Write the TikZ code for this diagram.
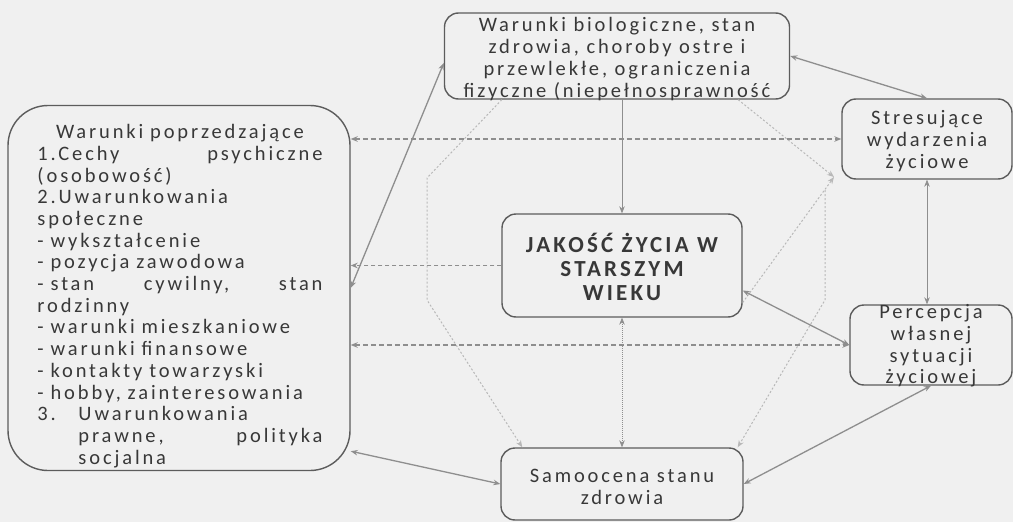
\documentclass[tikz,border=0pt]{standalone}
\usepackage{fontspec}
\setmainfont{Carlito}[LetterSpace=14]
\usetikzlibrary{positioning,arrows.meta}
\definecolor{paper}{HTML}{F0F0F0}
\definecolor{frame}{HTML}{5C5C5C}
\definecolor{ink}{HTML}{383838}
\definecolor{linkgray}{HTML}{8E8E8E}
\definecolor{faintgray}{HTML}{B8B8B8}
\tikzset{
	box/.style={draw=frame,line width=1.4pt,rounded corners=14pt,inner sep=0pt},
	boxtext/.style={text=ink,align=center,inner sep=0pt,font=\fontsize{20.5}{21.7}\selectfont},
	solidlink/.style={draw=linkgray,line width=1.3pt},
	thinlink/.style={draw=linkgray,line width=0.6pt},
	dashlink/.style={draw=linkgray,line width=1.8pt,dash pattern=on 5pt off 3pt},
	dotlink/.style={draw=faintgray,line width=1pt,dash pattern=on 2pt off 2pt},
	>={Stealth[length=7pt,width=5.5pt]}
}

\begin{document}
\begin{tikzpicture}[x=1pt,y=-1pt]
	\fill[paper] (0,0) rectangle (1013,522);
	\useasboundingbox (0,0) rectangle (1013,522);
	\node[box,rounded corners=40pt,minimum width=342pt,minimum height=365pt] (prev) at (179,288) {};
	\node[boxtext,align=left,text width=285pt] (prevtext) at (180,296) {%
		\hfill Warunki poprzedzające\hfill\null\\
		1.Cechy\hfill psychiczne\\
		(osobowość)\\
		2.Uwarunkowania\\
		społeczne\\
		- wykształcenie\\
		- pozycja zawodowa\\
		- stan\hfill cywilny,\hfill stan\\
		rodzinny\\
		- warunki mieszkaniowe\\
		- warunki finansowe\\
		- kontakty towarzyski\\
		- hobby, zainteresowania\\
		\makebox[41pt][l]{3.}Uwarunkowania\\
		\hspace*{41pt}prawne,\hfill polityka\\
		\hspace*{41pt}socjalna};
	\node[box,minimum width=345pt,minimum height=86pt] (bio) at (617,56) {};
	\node[boxtext] (biotext) at ([yshift=-3pt]bio.center) {Warunki biologiczne, stan\\zdrowia, choroby ostre i\\przewlekłe, ograniczenia\\fizyczne (niepełnosprawność};
	\node[box,minimum width=170pt,minimum height=80pt] (stress) at (927,139) {};
	\node[boxtext] (stresstext) at ([yshift=-2pt]stress.center) {Stresujące\\wydarzenia\\życiowe};
	\node[box,minimum width=162pt,minimum height=80pt] (percep) at (931,345) {};
	\node[boxtext] (perceptext) at ([yshift=-1pt]percep.center) {Percepcja\\własnej\\sytuacji\\życiowej};
	\node[box,minimum width=240pt,minimum height=103pt] (life) at (622,265.5) {};
	\node[boxtext,font=\fontsize{23}{24}\selectfont\bfseries] (lifetext) at ([yshift=-1pt]life.center) {JAKOŚĆ ŻYCIA W\\STARSZYM\\WIEKU};
	\node[box,minimum width=242pt,minimum height=72pt] (selfev) at (622,484) {};
	\node[boxtext] (selfevtext) at ([yshift=-3pt]selfev.center) {Samoocena stanu\\zdrowia};
	\coordinate (lbendtop) at (427,178);
	\coordinate (lbendbot) at (427,300);
	\coordinate (meet) at (834,177);
	\coordinate (rbendtop) at (825,190);
	\coordinate (rbendbot) at (825,300);
	\draw[dotlink,->] ([xshift=58pt]bio.south west) -- (lbendtop) -- (lbendbot) -- ([xshift=22pt]selfev.north west);
	\draw[dotlink,->] ([xshift=-52pt]bio.south east) -- (meet);
	\draw[dotlink,->] ([yshift=-37pt]life.east) -- (meet);
	\draw[dotlink,->] (rbendtop) -- (rbendbot) -- ([xshift=-6pt]selfev.north east);
	\draw[solidlink,<->] (prev.east) -- ([yshift=-7pt]bio.west);
	\draw[solidlink,<->] (bio.east) -- (stress.north);
	\draw[thinlink,<->] (stress.south) -- (stress.south |- percep.north);
	\draw[solidlink,<->] (percep.south) -- (selfev.east);
	\draw[solidlink,<->] ([yshift=20pt]prev.south east) -- (selfev.west);
	\draw[solidlink,<->] ([yshift=-25pt]life.east) -- (percep.west);
	\draw[thinlink,->] (bio.south -| life.north) -- (life.north);
	\draw[thinlink,dash pattern=on 1pt off 1pt,<->] (life.south) -- (selfev.north);
	\draw[dashlink,<->] (prev.east |- stress.west) -- (stress.west);
	\draw[dashlink,<->] (prev.east |- percep.west) -- (percep.west);
	\draw[dashlink,line width=1.2pt,dash pattern=on 4pt off 3pt,->] (life.west) -- (prev.east |- life.west);
\end{tikzpicture}
\end{document}
